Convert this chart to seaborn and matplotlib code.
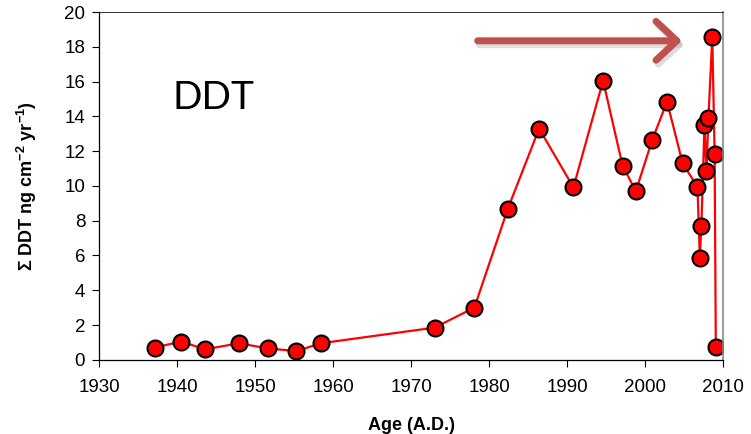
import pandas as pd
import matplotlib
matplotlib.use("Agg")
import matplotlib.pyplot as plt
import seaborn as sns

# ages (A.D.) and sum DDT flux
age = [1937.1, 1940.5, 1943.6, 1947.9, 1951.7, 1955.3, 1958.4, 1973.0, 1978.1,
       1982.4, 1986.4, 1990.8, 1994.6, 1997.1, 1998.8, 2000.9, 2002.8, 2004.8,
       2006.7, 2007.0, 2007.2, 2007.6, 2007.85, 2008.1, 2008.6, 2008.9, 2009.05]
ddt = [0.70, 1.05, 0.60, 0.95, 0.65, 0.50, 0.95, 1.85, 3.00,
       8.70, 13.30, 9.92, 16.06, 11.17, 9.70, 12.65, 14.85, 11.30,
       9.95, 5.88, 7.70, 13.52, 10.85, 13.90, 18.55, 11.83, 0.75]

x_ticks = list(range(1930, 2011, 10))
y_ticks = list(range(0, 21, 2))

df = pd.DataFrame({"Age": age, "DDT": ddt})

sns.set_style("ticks")
plt.rcParams["font.family"] = ["Liberation Sans", "DejaVu Sans"]
plt.rcParams["text.color"] = "black"
plt.rcParams["axes.labelcolor"] = "black"
plt.rcParams["mathtext.fontset"] = "custom"
plt.rcParams["mathtext.rm"] = "Liberation Sans:bold"
plt.rcParams["mathtext.bf"] = "Liberation Sans:bold"

fig = plt.figure(figsize=(7.51, 4.34), dpi=100)
ax = fig.add_axes([0.132, 0.171, 0.831, 0.801])

sns.lineplot(data=df, x="Age", y="DDT", sort=False, estimator=None, ax=ax,
             color="#ff0000", linewidth=1.6, marker="o", markersize=11.5,
             markerfacecolor="#ff0000", markeredgecolor="black", markeredgewidth=1.5)

ax.set_xlim(1930, 2010)
ax.set_ylim(0, 20)
ax.set_xticks(x_ticks)
ax.set_yticks(y_ticks)
ax.tick_params(labelsize=13.5, length=5, width=0.8, colors="black")
ax.tick_params(axis="x", pad=9)
ax.tick_params(axis="y", pad=5)
for side in ["left", "bottom"]:
    ax.spines[side].set_color("black")
    ax.spines[side].set_linewidth(0.9)
ax.spines["top"].set_color("#333333")
ax.spines["top"].set_linewidth(0.7)
ax.spines["right"].set_color("#888888")
ax.spines["right"].set_linewidth(1.2)

ax.set_xlabel("Age (A.D.)", fontsize=13, fontweight="bold", labelpad=15)
ax.set_ylabel(r"Σ DDT ng cm$^{-2}$ yr$^{-1}$)", fontsize=13, fontweight="bold", labelpad=18)

fig.text(0.230, 0.775, "DDT", fontsize=28, family=["Lato", "DejaVu Sans"], ha="left", va="center")

# red arrow pointing to the recent peak (with a faint shadow)
ax.annotate("", xy=(0.911, 0.897), xytext=(0.638, 0.897), xycoords="figure fraction",
            arrowprops=dict(arrowstyle="->,head_length=1.5,head_width=1.4", color="#bbbbbb",
                            lw=5, alpha=0.5, shrinkA=0, shrinkB=0,
                            capstyle="round", joinstyle="round"),
            annotation_clip=False)
ax.annotate("", xy=(0.908, 0.906), xytext=(0.636, 0.906), xycoords="figure fraction",
            arrowprops=dict(arrowstyle="->,head_length=1.5,head_width=1.4", color="#c0504d",
                            lw=5, shrinkA=0, shrinkB=0,
                            capstyle="round", joinstyle="round"),
            annotation_clip=False)

fig.savefig("out.png", dpi=100)
